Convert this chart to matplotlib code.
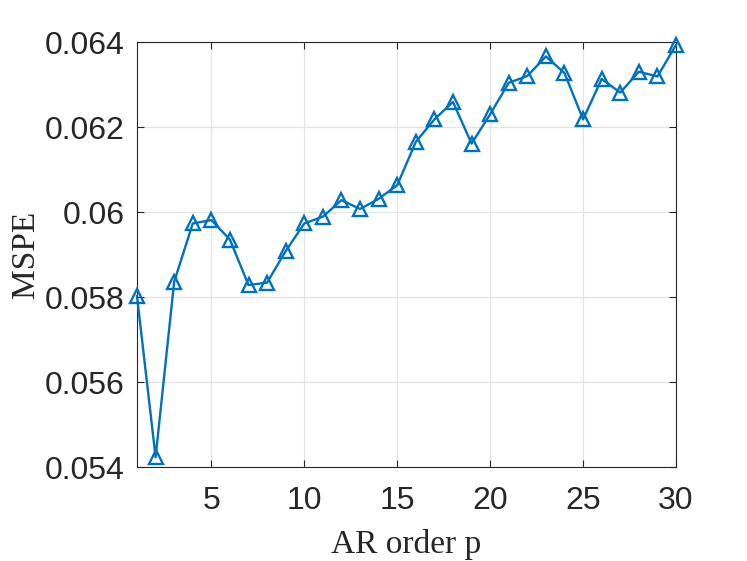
import matplotlib
matplotlib.use("Agg")
import matplotlib.pyplot as plt
from matplotlib.ticker import FixedLocator, FixedFormatter

orders = list(range(1, 31))
mspe = [0.05802, 0.05423, 0.05836, 0.05973, 0.05981, 0.05935, 0.05828, 0.05834,
        0.05908, 0.05973, 0.05989, 0.06028, 0.06007, 0.06031, 0.06063, 0.06165,
        0.06218, 0.06259, 0.06161, 0.06230, 0.06304, 0.06320, 0.06366, 0.06327,
        0.06218, 0.06313, 0.06281, 0.06330, 0.06319, 0.06393]
xticks = [5, 10, 15, 20, 25, 30]
yticks = [0.054, 0.056, 0.058, 0.060, 0.062, 0.064]
ytick_labels = ["0.054", "0.056", "0.058", "0.06", "0.062", "0.064"]

fig = plt.figure(figsize=(7.47, 5.61), dpi=100)
ax = fig.add_axes([137/747, 1 - 467/561, (676-137)/747, (467-42)/561])

ax.plot(orders, mspe, color="#0072BD", linewidth=1.7, marker="^",
        markersize=10, markerfacecolor="none", markeredgewidth=1.7,
        clip_on=False, zorder=3)

ax.set_xlim(1, 30)
ax.set_ylim(0.054, 0.064)
ax.xaxis.set_major_locator(FixedLocator(xticks))
ax.yaxis.set_major_locator(FixedLocator(yticks))
ax.yaxis.set_major_formatter(FixedFormatter(ytick_labels))

ax.grid(True, color="#e3e3e3", linewidth=0.9)
ax.set_axisbelow(True)
for s in ax.spines.values():
    s.set_color("#262626")
    s.set_linewidth(0.8)
ax.tick_params(direction="in", length=5, width=0.8, color="#262626",
               top=True, right=True, labelsize=23, labelcolor="#262626")
ax.tick_params(axis="x", pad=14)
ax.tick_params(axis="y", pad=9)
for lab in ax.get_xticklabels() + ax.get_yticklabels():
    lab.set_family("Liberation Sans")

ax.set_xlabel("AR order p", family="Liberation Serif", fontsize=24,
              color="#262626")
ax.set_ylabel("MSPE", family="Liberation Serif", fontsize=24,
              color="#262626")
ax.xaxis.set_label_coords(0.5, -0.145)
ax.yaxis.set_label_coords(-0.178, 0.5)

fig.savefig("out.png", dpi=100)
